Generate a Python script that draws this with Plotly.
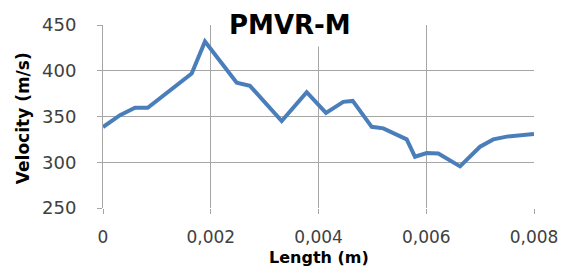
import plotly.graph_objects as go

length_m = [0, 0.000316, 0.000594, 0.000830, 0.001646, 0.001893, 0.002482, 0.002728,
            0.003317, 0.003781, 0.004139, 0.004460, 0.004635, 0.004988, 0.005203,
            0.005637, 0.005791, 0.006008, 0.006224, 0.006627, 0.006998, 0.007245,
            0.007493, 0.008]
velocity = [338.5, 351.5, 359.5, 359.5, 397, 432, 387, 383.5,
            345, 376.5, 354, 366, 367, 338.7, 337,
            325, 306, 310, 309.5, 295.5, 317, 325,
            328, 331]

x_tickvals = [0, 0.002, 0.004, 0.006, 0.008]
x_ticktext = ["0", "0,002", "0,004", "0,006", "0,008"]
y_tickvals = [250, 300, 350, 400, 450]

FONT = "DejaVu Sans"
GRID = "#a6a6a6"
TXT = "#404040"

fig = go.Figure()
fig.add_trace(go.Scatter(x=length_m, y=velocity, mode="lines",
                         line=dict(color="#4a7ebb", width=4), showlegend=False))

fig.update_layout(
    width=570, height=266,
    margin=dict(l=103, r=36, t=25, b=58),
    paper_bgcolor="white", plot_bgcolor="white",
    font=dict(family=FONT, color=TXT),
    xaxis=dict(range=[0, 0.008], tickvals=x_tickvals, ticktext=x_ticktext,
               showgrid=True, gridcolor=GRID, gridwidth=1,
               showline=False, zeroline=False,
               ticks="outside", ticklen=5, tickcolor=GRID,
               tickfont=dict(family=FONT, size=17, color=TXT),
               ticklabelstandoff=9),
    yaxis=dict(range=[250, 450], tickvals=y_tickvals,
               showgrid=True, gridcolor=GRID, gridwidth=1,
               showline=True, linecolor=GRID, linewidth=1, zeroline=False,
               ticks="outside", ticklen=5, tickcolor=GRID,
               tickfont=dict(family=FONT, size=18, color=TXT),
               ticklabelstandoff=17),
    annotations=[
        dict(text="<b>PMVR-M</b>", xref="paper", yref="paper", x=0.434, y=1.0,
             xanchor="center", yanchor="middle", showarrow=False,
             font=dict(family=FONT, size=26, color="black"),
             bgcolor="white", borderpad=6),
        dict(text="<b>Length (m)</b>", xref="paper", yref="paper", x=0.5, y=-0.268,
             xanchor="center", yanchor="middle", showarrow=False,
             font=dict(family=FONT, size=16, color="black")),
        dict(text="<b>Velocity (m/s)</b>", xref="paper", yref="paper", x=-0.186, y=0.49,
             xanchor="center", yanchor="middle", showarrow=False, textangle=-90,
             font=dict(family=FONT, size=17, color="black")),
    ],
)

fig.write_html("out.html", config={"displayModeBar": False},
               post_script="document.body.style.margin='0';document.body.style.padding='0';")
